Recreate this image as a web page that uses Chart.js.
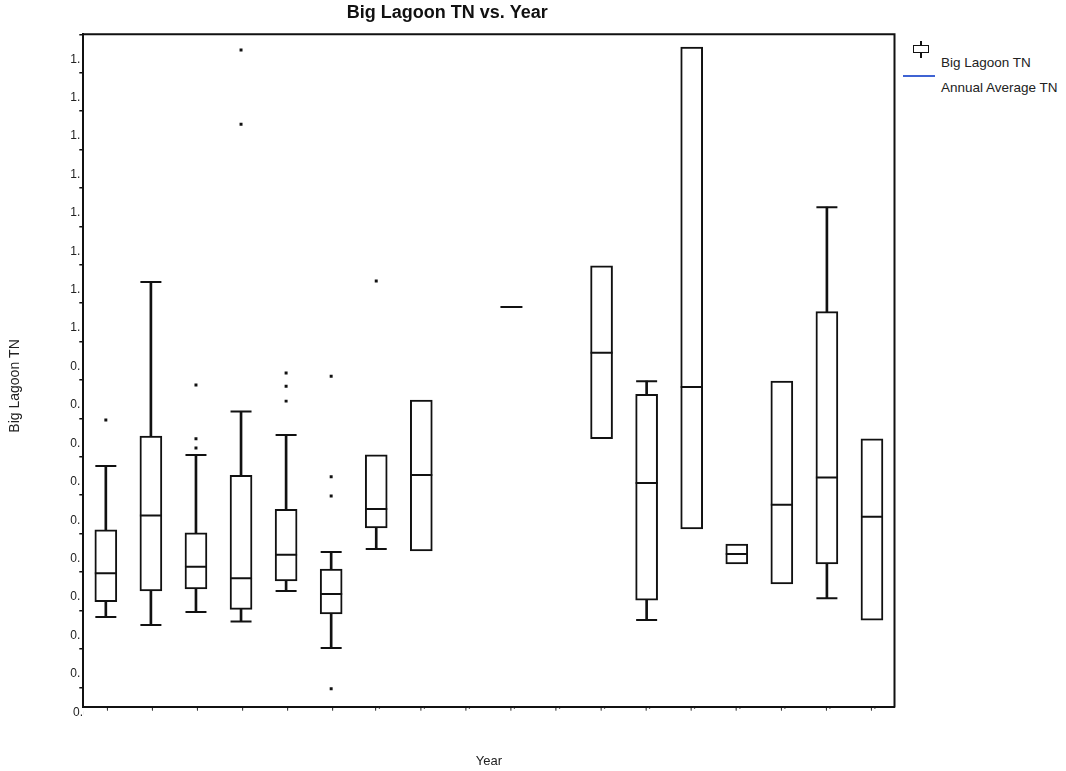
<!DOCTYPE html>
<html>
<head>
<meta charset="utf-8">
<script src="https://cdn.jsdelivr.net/npm/chart.js@4.4.1/dist/chart.umd.min.js"></script>
<style>
html,body{margin:0;padding:0;background:#fff;}
#wrap{position:relative;width:1066px;height:771px;overflow:hidden;font-family:'Liberation Sans',Arial,sans-serif;}
#c{position:absolute;left:0;top:0;}
.lg{position:absolute;font-size:13.5px;color:#222;white-space:nowrap;line-height:15px;}
</style>
</head>
<body>
<div id="wrap">
  <canvas id="c" width="896" height="771"></canvas>
  <div id="legend">
    <div style="position:absolute;left:920.25px;top:41px;width:1.5px;height:17px;background:#111"></div>
    <div style="position:absolute;left:913px;top:45px;width:16px;height:8px;box-sizing:border-box;border:1.5px solid #111;background:#fff"></div>
    <div class="lg" style="left:941px;top:55px">Big Lagoon TN</div>
    <div style="position:absolute;left:903px;top:75px;width:32px;height:1.5px;background:#3f63d3"></div>
    <div class="lg" style="left:941px;top:80px">Annual Average TN</div>
  </div>
</div>
<script>
// ---- data ----
const categories = ['1','2','3','4','5','6','7','8','9','10','11','12','13','14','15','16','17','18'];
const tickLabels = ["'", "'", "'", "'", "'", "'", "'`", "'`", "'`", "'`", "'`", "'`", "'`", "'`", "'`", "'`", "'`", "'`"];
const whiskerLow  = [0.233, 0.212, 0.246, 0.221, 0.301, 0.152, 0.410, null, null, null, null, null, 0.225, null, null, null, 0.282, null];
const q1          = [0.273, 0.301, 0.306, 0.253, 0.327, 0.241, 0.465, 0.405, null, 1.040, null, 0.697, 0.277, 0.462, 0.371, 0.319, 0.371, 0.225];
const median      = [0.347, 0.497, 0.364, 0.334, 0.395, 0.293, 0.514, 0.603, null, 1.040, null, 0.921, 0.582, 0.832, 0.397, 0.525, 0.596, 0.494];
const q3          = [0.460, 0.704, 0.452, 0.602, 0.513, 0.358, 0.655, 0.798, null, 1.040, null, 1.147, 0.813, 1.717, 0.423, 0.847, 1.028, 0.697];
const whiskerHigh = [0.626, 1.105, 0.655, 0.768, 0.707, 0.402, null, null, null, null, null, null, 0.847, null, null, null, 1.300, null];
const outliers    = [[0.746], [], [0.837, 0.697, 0.673], [1.709, 1.516], [0.868, 0.834, 0.795], [0.860, 0.598, 0.548, 0.046], [1.108], [], [], [], [], [], [], [], [], [], [], []];
const yTickValues = [0.05, 0.15, 0.25, 0.35, 0.45, 0.55, 0.65, 0.75, 0.85, 0.95, 1.05, 1.15, 1.25, 1.35, 1.45, 1.55, 1.65, 1.75];
const yTickLabels = ['0.(', '0.', '0.', '0.', '0.', '0.', '0.', '0.', '0.', '0.', '1.', '1.', '1.', '1.', '1.', '1.', '1.', '1.'];

const FONT = "'Liberation Sans', Arial, sans-serif";
const INK = '#111';
const PAD2 = '\u00A0\u00A0';
Chart.defaults.font.family = FONT;
Chart.defaults.color = '#222';

const boxData = categories.map((c, i) => (q1[i] != null && q3[i] > q1[i]) ? [q1[i], q3[i]] : null);
const upStem = categories.map((c, i) => (whiskerHigh[i] != null) ? [q3[i], whiskerHigh[i]] : null);
const lowStem = categories.map((c, i) => (whiskerLow[i] != null) ? [whiskerLow[i], q1[i]] : null);
const outlierPts = [];
outliers.forEach((arr, i) => arr.forEach(v => outlierPts.push({x: categories[i], y: v})));

const pointSet = (data, radius, order) => ({
  type: 'line', data, showLine: false, order,
  pointStyle: 'line', pointRadius: radius, pointHoverRadius: radius,
  pointBorderWidth: 2, pointBorderColor: INK, borderColor: INK, backgroundColor: INK
});
const stemSet = (data) => ({
  type: 'bar', data, order: 4, grouped: false, barThickness: 2,
  backgroundColor: INK, borderWidth: 0
});

const framePlugin = {
  id: 'frame',
  afterDraw(chart) {
    const {ctx, chartArea: a} = chart;
    ctx.save();
    ctx.strokeStyle = INK;
    ctx.lineWidth = 2;
    ctx.beginPath();
    ctx.moveTo(a.left, a.top);
    ctx.lineTo(a.right, a.top);
    ctx.lineTo(a.right, a.bottom + 1);
    ctx.stroke();
    ctx.restore();
  }
};

new Chart(document.getElementById('c'), {
  type: 'bar',
  data: {
    labels: categories,
    datasets: [
      pointSet(median, 11, 0),
      {
        type: 'line', data: outlierPts, showLine: false, order: 0,
        pointStyle: 'rect', pointRadius: 2.1, pointHoverRadius: 2.1,
        pointBackgroundColor: INK, pointBorderWidth: 0, borderColor: INK
      },
      pointSet(whiskerHigh, 10.5, 1),
      pointSet(whiskerLow, 10.5, 1),
      {
        type: 'bar', data: boxData, order: 3, grouped: false, barThickness: 22,
        backgroundColor: '#fff', borderColor: INK, borderWidth: 2, borderSkipped: false
      },
      stemSet(upStem),
      stemSet(lowStem)
    ]
  },
  plugins: [framePlugin],
  options: {
    responsive: false,
    animation: false,
    events: [],
    layout: {autoPadding: false, padding: {left: 0, right: 1.5, top: 0, bottom: 0}},
    plugins: {
      legend: {display: false},
      tooltip: {enabled: false},
      title: {
        display: true, text: 'Big Lagoon TN vs. Year', color: INK,
        font: {size: 18, weight: 'bold', family: FONT},
        padding: {top: 2, bottom: 10.7}
      }
    },
    scales: {
      x: {
        type: 'category', offset: true,
        grid: {display: false, drawTicks: false},
        border: {display: true, color: INK, width: 2},
        ticks: {
          callback: (v, i) => tickLabels[i], autoSkip: false, maxRotation: 0, minRotation: 0,
          font: {size: 12}, color: '#222', padding: 0, labelOffset: 1.5
        },
        title: {display: true, text: 'Year', font: {size: 13}, color: '#222', padding: {top: 0, bottom: 1.5}},
        afterFit: s => { s.height = 64.5; }
      },
      y: {
        type: 'linear', min: 0, max: 1.75,
        afterBuildTicks: s => { s.ticks = yTickValues.map(v => ({value: v})); },
        afterFit: s => { s.width = 83.3; },
        ticks: {
          callback: (v, i) => (i === 0 ? yTickLabels[i] : yTickLabels[i] + PAD2), autoSkip: false,
          labelOffset: 25, padding: -7.7, font: {size: 12}, color: '#222'
        },
        grid: {display: true, drawOnChartArea: false, drawTicks: true, tickLength: 4, color: INK, lineWidth: 1.5},
        border: {display: true, color: INK, width: 2},
        title: {
          display: true, text: 'Big Lagoon TN' + '\u00A0'.repeat(8), font: {size: 14}, color: '#222',
          padding: {top: 6.6, bottom: 0}
        }
      }
    }
  }
});
</script>
</body>
</html>
